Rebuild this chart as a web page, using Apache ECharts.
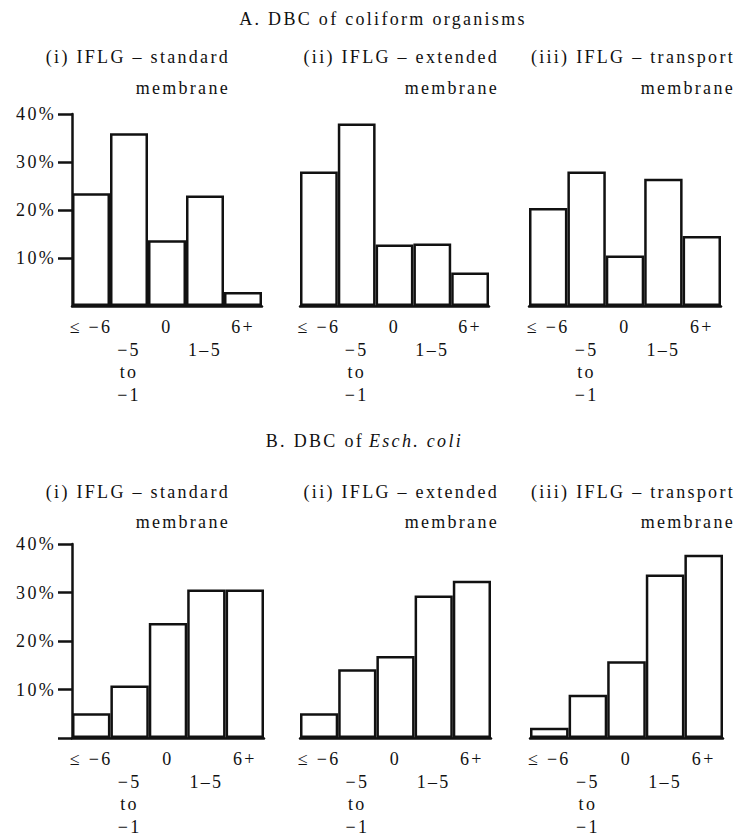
<!DOCTYPE html>
<html><head><meta charset="utf-8">
<script src="https://cdn.jsdelivr.net/npm/echarts@6/dist/echarts.min.js"></script>
<style>
html,body{margin:0;padding:0;background:#fff;}
#c{width:737px;height:839px;}
#c text{letter-spacing:2.3px;}
</style></head><body><div id="c"></div>
<script>
// ---- data ----
const categories = ['≤ −6', '−5 to −1', '0', '1–5', '6+'];
const catLabels = ['≤ −6', '\n−5\nto\n−1', '0', '\n1–5', '6+'];
const A_standard  = [23.5, 36.0, 13.7, 23.0, 2.9];
const A_extended  = [28.0, 38.0, 12.8, 13.0, 7.0];
const A_transport = [20.4, 28.0, 10.5, 26.5, 14.6];
const B_standard  = [5.1, 10.8, 23.7, 30.6, 30.6];
const B_extended  = [5.1, 14.2, 16.9, 29.4, 32.4];
const B_transport = [2.1, 8.9, 15.8, 33.7, 37.8];
const yTickValues = [10, 20, 30, 40];
const panelTitles = [
  ['(i) IFLG – standard', 'membrane'],
  ['(ii) IFLG – extended', 'membrane'],
  ['(iii) IFLG – transport', 'membrane']
];
const titleA = 'A. DBC of coliform organisms';
const titleB1 = 'B. DBC of';
const titleB2 = 'Esch. coli';

// ---- layout ----
const FONT = '"Liberation Serif", "Times New Roman", serif';
const INK = '#111';
const gridsLayout = [
  {left: 72, top: 114, width: 190, height: 192},
  {left: 300, top: 114, width: 189, height: 192},
  {left: 529, top: 114, width: 192, height: 192},
  {left: 72, top: 544, width: 192, height: 194},
  {left: 300, top: 544, width: 191, height: 194},
  {left: 530, top: 544, width: 193, height: 194}
];
const seriesData = [A_standard, A_extended, A_transport, B_standard, B_extended, B_transport];

const grid = gridsLayout.map(g => Object.assign({containLabel: false}, g));
const xAxis = gridsLayout.map((g, i) => ({
  type: 'category', gridIndex: i, data: categories,
  axisLine: {show: true, lineStyle: {color: INK, width: 2.5}},
  axisTick: {show: false},
  axisLabel: {
    interval: 0, margin: 10, color: INK, fontFamily: FONT, fontSize: 18, lineHeight: 22.5,
    formatter: (v, idx) => catLabels[idx]
  },
  splitLine: {show: false}
}));
const yAxis = gridsLayout.map((g, i) => {
  const first = (i === 0 || i === 3);
  return {
    type: 'value', gridIndex: i, min: 0, max: 40, interval: 10,
    show: first,
    axisLine: {show: true, lineStyle: {color: INK, width: 2.5}},
    axisTick: {show: true, length: 14, lineStyle: {color: INK, width: 2.5},
      customValues: i === 3 ? [0].concat(yTickValues) : yTickValues},
    axisLabel: {customValues: yTickValues, formatter: v => v + '%', margin: 16,
      color: INK, fontFamily: FONT, fontSize: 18},
    splitLine: {show: false}
  };
});
const series = seriesData.map((d, i) => ({
  type: 'bar', xAxisIndex: i, yAxisIndex: i, data: d,
  barCategoryGap: '0%', silent: true,
  itemStyle: {color: '#fff', borderColor: INK, borderWidth: 2.5}
}));

const txt = (text, x, y, align, extra) => ({
  type: 'text', x: x, y: y, silent: true,
  style: Object.assign({text: text, fill: INK, font: '18px ' + FONT,
    textAlign: align, textVerticalAlign: 'middle'}, extra || {})
});
const subRight = [230, 499, 735];
const graphics = [txt(titleA, 383, 19, 'center')];
[[57, 88], [492, 522]].forEach(ys => {
  panelTitles.forEach((pt, k) => {
    graphics.push(txt(pt[0], subRight[k], ys[0], 'right'));
    graphics.push(txt(pt[1], subRight[k], ys[1], 'right'));
  });
});
graphics.push(txt(titleB1, 364, 441, 'right'));
graphics.push(txt(titleB2, 369, 441, 'left', {font: 'italic 18px ' + FONT}));

const chart = echarts.init(document.getElementById('c'), null, {renderer: 'svg'});
chart.setOption({
  animation: false,
  backgroundColor: '#fff',
  grid: grid, xAxis: xAxis, yAxis: yAxis, series: series,
  graphic: graphics
});
</script></body></html>
